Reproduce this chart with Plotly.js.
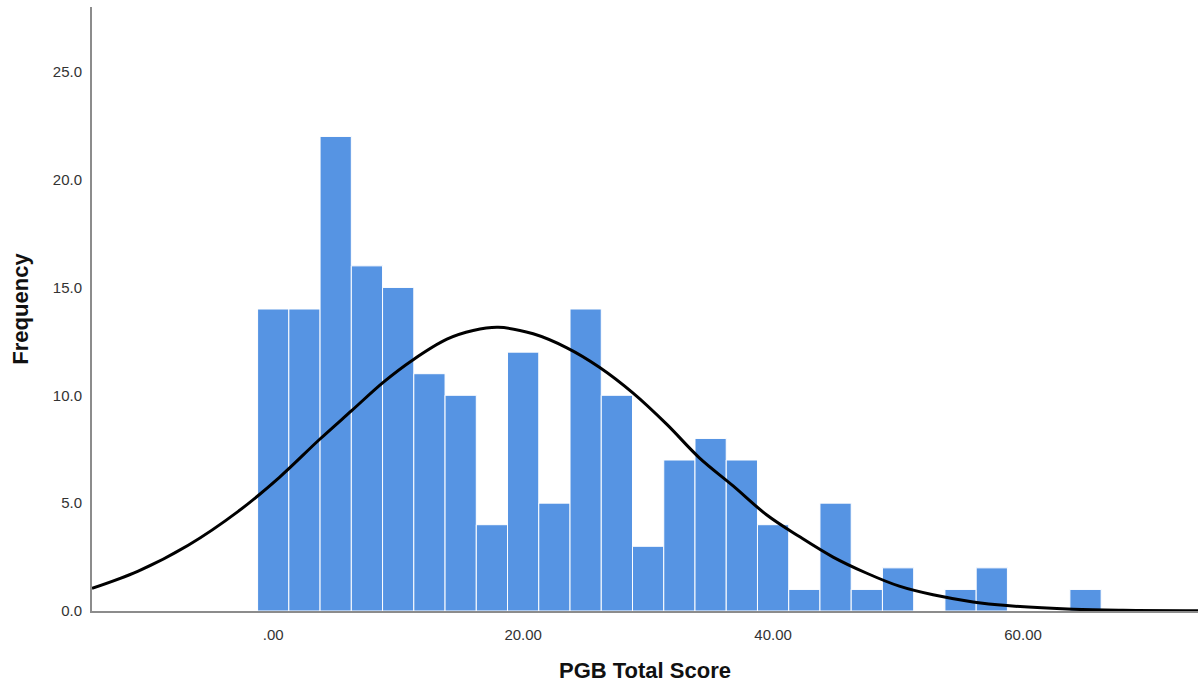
<!DOCTYPE html>
<html>
<head>
<meta charset="utf-8">
<script src="https://cdn.plot.ly/plotly-3.0.1.min.js"></script>
<style>html,body{margin:0;padding:0;background:#fff;}#chart{width:1198px;height:683px;}</style>
</head>
<body>
<div id="chart"></div>
<script>
// Histogram bins (centres) and frequencies
const binCenters = [0, 2.5, 5, 7.5, 10, 12.5, 15, 17.5, 20, 22.5, 25, 27.5, 30, 32.5, 35, 37.5, 40, 42.5, 45, 47.5, 50, 52.5, 55, 57.5, 60, 62.5, 65];
const frequencies = [14, 14, 22, 16, 15, 11, 10, 4, 12, 5, 14, 10, 3, 7, 8, 7, 4, 1, 5, 1, 2, 0, 1, 2, 0, 0, 1];
const binWidth = 2.5;

// Normal curve, points
const curveX = [-14.5, -10.8, -6.8, -2.8, 0.5, 3.7, 6.3, 8.8, 11.2, 13.9, 16, 18, 20.8, 23.5, 26.1, 28.8, 31.5, 34.1, 36.8, 39.5, 42.1, 44.8, 47.5, 50.1, 52.8, 56, 58.7, 64, 68, 74];
const curveY = [1.05, 1.85, 3.05, 4.62, 6.2, 7.95, 9.3, 10.6, 11.65, 12.6, 13.0, 13.15, 12.85, 12.2, 11.3, 10.1, 8.65, 7.1, 5.8, 4.45, 3.45, 2.5, 1.75, 1.15, 0.75, 0.42, 0.25, 0.08, 0.03, 0.01];

// Tick labels
const xTickVals = [0, 20, 40, 60];
const xTickText = ['.00', '20.00', '40.00', '60.00'];
const yTickVals = [0, 5, 10, 15, 20, 25];
const yTickText = ['0.0', '5.0', '10.0', '15.0', '20.0', '25.0'];

const bars = {
  type: 'bar',
  x: binCenters,
  y: frequencies,
  width: binCenters.map(() => binWidth),
  marker: {color: '#5694e3', line: {color: '#ffffff', width: 1}},
  hoverinfo: 'x+y'
};
const curve = {
  type: 'scatter',
  mode: 'lines',
  x: curveX,
  y: curveY,
  line: {color: '#000000', width: 3, shape: 'spline', smoothing: 1},
  hoverinfo: 'skip'
};

const layout = {
  width: 1198,
  height: 683,
  margin: {l: 92, r: 0, t: 7, b: 72},
  paper_bgcolor: '#ffffff',
  plot_bgcolor: '#ffffff',
  showlegend: false,
  bargap: 0,
  font: {family: 'Liberation Sans, Arial, sans-serif', color: '#333333', size: 15},
  xaxis: {
    range: [-14.5, 74],
    tickvals: xTickVals,
    ticktext: xTickText,
    showgrid: false,
    zeroline: false,
    showline: true,
    linecolor: '#8c8c8c',
    linewidth: 2,
    ticks: '',
    ticklabelstandoff: 9,
    tickfont: {size: 15, color: '#333333'},
    title: {text: 'PGB Total Score', font: {size: 22, color: '#111111', family: 'Liberation Sans, Arial, sans-serif', weight: 'bold'}, standoff: 23}
  },
  yaxis: {
    range: [0, 28],
    tickvals: yTickVals,
    ticktext: yTickText,
    showgrid: false,
    zeroline: false,
    showline: true,
    linecolor: '#8c8c8c',
    linewidth: 2,
    ticks: '',
    ticklabelstandoff: 5,
    tickfont: {size: 15, color: '#333333'},
    title: {text: 'Frequency', font: {size: 22, color: '#111111', family: 'Liberation Sans, Arial, sans-serif', weight: 'bold'}, standoff: 18}
  }
};

Plotly.newPlot('chart', [bars, curve], layout, {displayModeBar: false, staticPlot: true});
</script>
</body>
</html>
